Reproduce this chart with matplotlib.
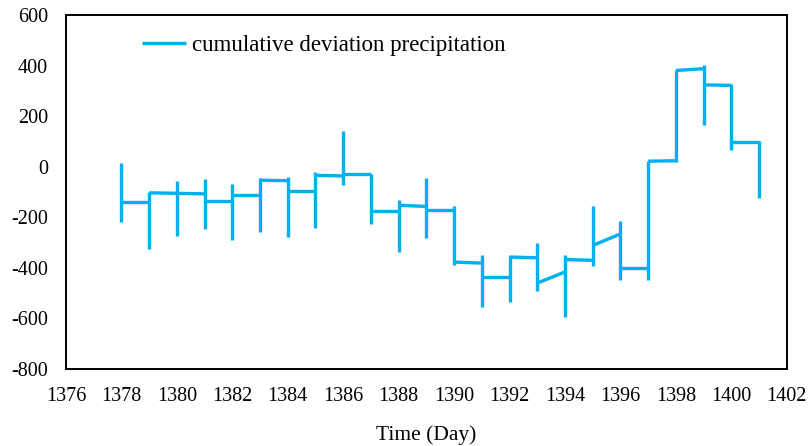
import numpy as np
import matplotlib.pyplot as plt

plt.rcParams['font.family'] = ['Liberation Serif', 'DejaVu Serif']
plt.rcParams['axes.unicode_minus'] = False

years = np.arange(1378, 1402)
high = [15, -101, -55, -47, -67, -46, -42, -19, 140, -29, -133, -46, -157,
        -348, -352, -302, -348, -157, -213, 21, 384, 403, 327, 103]
low = [-220, -324, -273, -245, -291, -257, -278, -241, -71, -227, -339, -281, -387,
       -556, -535, -490, -596, -394, -447, -447, 17, 166, 67, -124]
# level at the start and end of each step (year i -> year i+1)
seg_start = [-141, -103, -105, -134, -111, -53, -96, -34, -30, -173, -152, -170,
             -377, -436, -357, -460, -367, -311, -402, 22, 381, 324, 100]
seg_end = [-141, -105, -107, -134, -111, -55, -96, -36, -30, -173, -157, -170,
           -381, -436, -360, -416, -370, -266, -402, 24, 388, 322, 100]

color = '#00B0F0'
lw = 2.4

fig = plt.figure(figsize=(8.08, 4.46), dpi=100)
ax = fig.add_axes([0.0817, 0.1726, 0.892, 0.7935])

for i, yr in enumerate(years):
    ax.plot([yr, yr], [low[i], high[i]], color=color, lw=lw,
            solid_capstyle='butt', label='cumulative deviation precipitation' if i == 0 else None)
    if i < len(seg_start):
        ax.plot([yr, yr + 1], [seg_start[i], seg_end[i]], color=color, lw=lw,
                solid_capstyle='butt')

ax.set_xlim(1376, 1402)
ax.set_ylim(-800, 600)
ax.set_xticks(np.arange(1376, 1403, 2))
ax.set_yticks(np.arange(-800, 601, 200))
ax.tick_params(length=0, labelsize=14.5)
ax.tick_params(axis='x', pad=13)
ax.tick_params(axis='y', pad=13)
for s in ax.spines.values():
    s.set_linewidth(1.4)
ax.set_xlabel('Time (Day)', fontsize=15.5, labelpad=14)

ax.legend(loc='center left', bbox_to_anchor=(0.105, 0.915), frameon=False,
          fontsize=16.5, handlelength=1.95, handletextpad=0.25,
          borderpad=0, borderaxespad=0)

fig.savefig('out.png', dpi=100)
